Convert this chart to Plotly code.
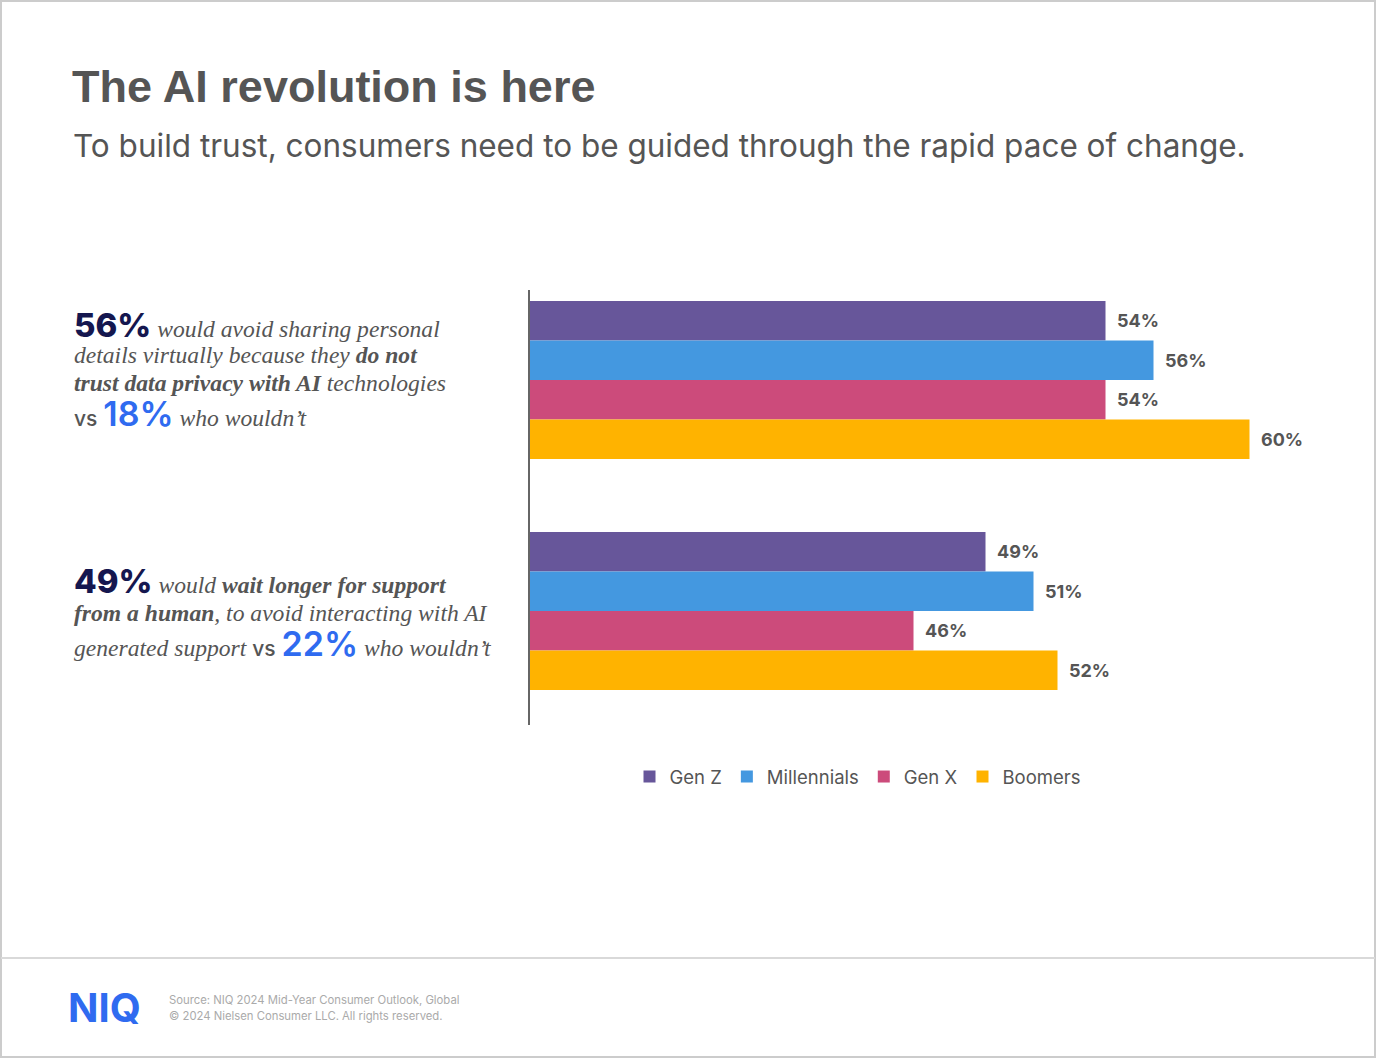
import plotly.graph_objects as go

W, H = 1376, 1058

questions = ["privacy", "support"]
series_names = ["Gen Z", "Millennials", "Gen X", "Boomers"]
series_colors = ["#67569a", "#4498e0", "#cc4b7b", "#ffb300"]
values = {
    "Gen Z": [54, 49],
    "Millennials": [56, 51],
    "Gen X": [54, 46],
    "Boomers": [60, 52],
}

title = "The AI revolution is here"
subtitle = "To build trust, consumers need to be guided through the rapid pace of change."
source_lines = ["Source: NIQ 2024 Mid-Year Consumer Outlook, Global",
                "© 2024 Nielsen Consumer LLC. All rights reserved."]


def px(x):
    return x / W


def py(y):
    return 1 - y / H


fig = go.Figure()
for name, color in zip(series_names, series_colors):
    fig.add_trace(go.Bar(
        y=questions, x=values[name], name=name, orientation="h",
        marker=dict(color=color, line=dict(width=0)),
        text=[f"\u00a0\u00a0{v}%" for v in values[name]],
        textposition="outside", cliponaxis=False,
        textfont=dict(family="Inter", size=18, color="#555555", weight="bold"),
        hoverinfo="skip",
    ))

NUM = "font-family:Inter;font-style:normal;font-size:33px;font-weight:800;color:#15174f"
BLUE = "font-family:Inter;font-style:normal;font-size:34px;font-weight:600;color:#2f6bf0"
VS = "font-family:Inter;font-style:normal;font-size:21px;font-weight:500;color:#555555"

lines = [
    (325, f"<span style='{NUM}'>56%</span> <i>would avoid sharing personal</i>"),
    (355, "<i>details virtually because they <b>do not</b></i>"),
    (383, "<i><b>trust data privacy with AI</b> technologies</i>"),
    (414, f"<span style='{VS}'>vs</span> <span style='{BLUE}'>18%</span> <i>who wouldn’t</i>"),
    (581, f"<span style='{NUM}'>49%</span> <i>would <b>wait longer for support</b></i>"),
    (613, "<i><b>from a human</b>, to avoid interacting with AI</i>"),
    (643, f"<i>generated support</i> <span style='{VS}'>vs</span> <span style='{BLUE}'>22%</span> <i>who wouldn’t</i>"),
]

annotations = []
for yy, txt in lines:
    annotations.append(dict(
        x=px(72), y=py(yy), xref="paper", yref="paper", xanchor="left", yanchor="middle",
        text=txt, showarrow=False, align="left",
        font=dict(family="Liberation Serif", size=23.6, color="#555555"),
    ))

annotations += [
    dict(x=px(70), y=py(86), xref="paper", yref="paper", xanchor="left", yanchor="middle",
         text=f"<b>{title}</b>", showarrow=False,
         font=dict(family="Liberation Sans", size=45, color="#555555")),
    dict(x=px(71), y=py(146), xref="paper", yref="paper", xanchor="left", yanchor="middle",
         text=subtitle, showarrow=False,
         font=dict(family="Inter", size=31.5, color="#555555")),
    dict(x=px(66), y=py(1007), xref="paper", yref="paper", xanchor="left", yanchor="middle",
         text="<b>NIQ</b>", showarrow=False,
         font=dict(family="Inter", size=40, color="#2f6bf0", weight=900)),
    dict(x=px(167), y=py(1000), xref="paper", yref="paper", xanchor="left", yanchor="middle",
         text=source_lines[0], showarrow=False,
         font=dict(family="Inter", size=11.3, color="#aaaaaa")),
    dict(x=px(167), y=py(1016), xref="paper", yref="paper", xanchor="left", yanchor="middle",
         text=source_lines[1], showarrow=False,
         font=dict(family="Inter", size=11.3, color="#aaaaaa")),
]

shapes = [
    dict(type="rect", xref="paper", yref="paper", x0=px(1), y0=py(1), x1=px(W - 1), y1=py(H - 1),
         line=dict(color="#cccccc", width=2)),
    dict(type="line", xref="paper", yref="paper", x0=px(1), x1=px(W - 1), y0=py(958), y1=py(958),
         line=dict(color="#d9d9d9", width=2)),
]

fig.update_layout(
    width=W, height=H,
    margin=dict(l=0, r=0, t=0, b=0),
    paper_bgcolor="white", plot_bgcolor="white",
    barmode="group", bargap=0.316, bargroupgap=0,
    xaxis=dict(domain=[px(529.5), px(1369.5)], range=[30, 65], showgrid=False, zeroline=False,
               showticklabels=False, ticks="", fixedrange=True),
    yaxis=dict(domain=[py(725), py(290)], range=[1.494, -0.39], showgrid=False, zeroline=False,
               showticklabels=False, ticks="", showline=True, linecolor="#666666", linewidth=2,
               fixedrange=True),
    showlegend=True,
    legend=dict(orientation="h", x=px(858), y=py(777), xanchor="center", yanchor="middle",
                font=dict(family="Inter", size=18.5, color="#555555"), traceorder="normal",
                itemclick=False, itemdoubleclick=False),
    annotations=annotations, shapes=shapes,
    font=dict(family="Inter"),
)

fig.write_html("out.html", config={"displayModeBar": False},
               post_script="document.body.style.margin='0';document.body.style.overflow='hidden';")
